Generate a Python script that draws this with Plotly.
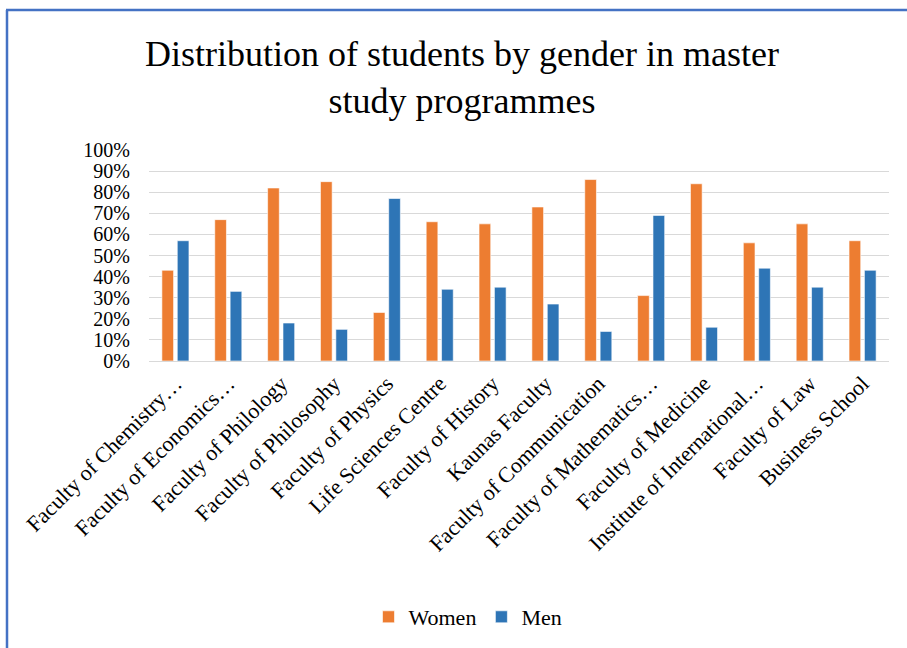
import plotly.graph_objects as go

categories = [
    "Faculty of Chemistry…",
    "Faculty of Economics…",
    "Faculty of Philology",
    "Faculty of Philosophy",
    "Faculty of Physics",
    "Life Sciences Centre",
    "Faculty of History",
    "Kaunas Faculty",
    "Faculty of Communication",
    "Faculty of Mathematics…",
    "Faculty of Medicine",
    "Institute of International…",
    "Faculty of Law",
    "Business School",
]
women = [0.43, 0.67, 0.82, 0.85, 0.23, 0.66, 0.65, 0.73, 0.86, 0.31, 0.84, 0.56, 0.65, 0.57]
men = [0.57, 0.33, 0.18, 0.15, 0.77, 0.34, 0.35, 0.27, 0.14, 0.69, 0.16, 0.44, 0.35, 0.43]
y_ticks = [i / 10 for i in range(11)]

FONT = "Liberation Serif, Times New Roman, serif"
W, H = 907, 648
L, R, T, B = 149, 18, 150, 287
pw, ph = W - L - R, H - T - B

def px_x(x):
    return (x - L) / pw

def px_y(y):
    return (H - B - y) / ph

fig = go.Figure()
fig.add_trace(go.Bar(
    name="Women", x=categories, y=women,
    marker=dict(color="#ED7D31", line=dict(color="rgba(255,255,255,0.6)", width=1)),
))
fig.add_trace(go.Bar(
    name="Men", x=categories, y=men,
    marker=dict(color="#2E75B6", line=dict(color="rgba(255,255,255,0.6)", width=1)),
))

border = "#4472C4"
fig.add_shape(type="line", xref="paper", yref="paper",
              x0=px_x(7), x1=px_x(7), y0=px_y(10), y1=px_y(660),
              line=dict(color=border, width=2.5))
fig.add_shape(type="line", xref="paper", yref="paper",
              x0=px_x(6), x1=px_x(915), y0=px_y(10), y1=px_y(10),
              line=dict(color=border, width=2.5))

fig.update_layout(
    width=W, height=H,
    margin=dict(l=L, r=R, t=T, b=B, autoexpand=False),
    paper_bgcolor="white", plot_bgcolor="white",
    font=dict(family=FONT, color="black", size=22),
    title=dict(
        text="Distribution of students by gender in master<br>study programmes",
        x=462 / W, xanchor="center", xref="container",
        y=1 - 66 / H, yanchor="top", yref="container",
        font=dict(family=FONT, size=36, color="black"),
    ),
    barmode="group", bargap=0.418, bargroupgap=0.24,
    showlegend=True,
    legend=dict(
        orientation="h", x=px_x(468), xanchor="center",
        y=px_y(617), yanchor="middle",
        font=dict(family=FONT, size=22, color="black"),
        itemwidth=30, tracegroupgap=0,
    ),
    xaxis=dict(
        tickangle=-45, tickfont=dict(family=FONT, size=22, color="black"),
        showline=True, linecolor="#D9D9D9", linewidth=1,
        showgrid=False, ticks="", automargin=False,
    ),
    yaxis=dict(
        range=[0, 1], tickvals=y_ticks, tickformat=".0%",
        tickfont=dict(family=FONT, size=20, color="black"),
        showgrid=True, gridcolor="#D9D9D9", gridwidth=1,
        zeroline=False, showline=False, ticks="",
        ticklabelstandoff=18, automargin=False,
    ),
)

fig.write_html(
    "out.html",
    config={"displayModeBar": False},
    post_script="document.body.style.margin='0';document.body.style.padding='0';",
)
